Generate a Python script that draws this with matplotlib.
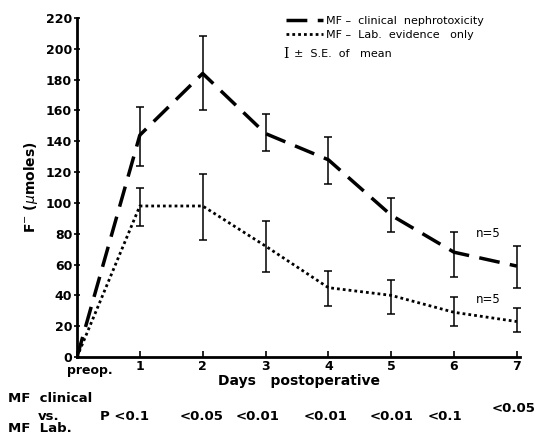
import numpy as np
import matplotlib.pyplot as plt
import matplotlib as mpl

mpl.rcParams['font.family'] = ['DejaVu Sans']

days = [0, 1, 2, 3, 4, 5, 6, 7]
day_labels = ['preop.', '1', '2', '3', '4', '5', '6', '7']

# MF - clinical nephrotoxicity
clin = [0, 144, 184, 145, 128, 92, 68, 59]
clin_hi = [0, 162, 208, 158, 143, 103, 81, 72]
clin_lo = [0, 124, 160, 134, 112, 81, 52, 45]

# MF - Lab. evidence only
lab = [0, 98, 98, 72, 45, 40, 29, 23]
lab_hi = [0, 110, 119, 88, 56, 50, 39, 32]
lab_lo = [0, 85, 76, 55, 33, 28, 20, 16]

p_labels = ['P <0.1', '<0.05', '<0.01', '<0.01', '<0.01', '<0.1', '<0.05']

W, H = 542, 437
fig = plt.figure(figsize=(W / 100, H / 100), dpi=100)
ax = fig.add_axes([77 / W, 80 / H, 443 / W, 339 / H])

d = np.array(days)
c = np.array(clin)
l = np.array(lab)

l1, = ax.plot(d, c, color='black', lw=2.5, dashes=(6, 3),
              label='MF –  clinical  nephrotoxicity')
ax.errorbar(d[1:], c[1:], yerr=[c[1:] - np.array(clin_lo[1:]), np.array(clin_hi[1:]) - c[1:]],
            fmt='none', ecolor='black', elinewidth=1.1, capsize=3, capthick=1.1)
l2, = ax.plot(d, l, color='black', lw=2.0, ls=(0, (1, 1.1)),
              label='MF –  Lab.  evidence   only')
ax.errorbar(d[1:], l[1:], yerr=[l[1:] - np.array(lab_lo[1:]), np.array(lab_hi[1:]) - l[1:]],
            fmt='none', ecolor='black', elinewidth=1.1, capsize=3, capthick=1.1)

ax.set_xlim(0, 7.05)
ax.set_ylim(0, 220)
ax.set_yticks(np.arange(0, 221, 20))
# "preop." is drawn separately, a little to the right of its tick
ax.set_xticks(days, [''] + day_labels[1:])
ax.annotate(day_labels[0], xy=(days[0], 0), xycoords=('data', 'axes fraction'),
            xytext=(9, -5), textcoords='offset points', ha='center', va='top',
            fontsize=9, fontweight='bold')
for s in ['top', 'right']:
    ax.spines[s].set_visible(False)
ax.spines['left'].set_linewidth(2)
ax.spines['bottom'].set_linewidth(2)
ax.tick_params(axis='y', direction='inout', length=5, width=1.2, labelsize=9, pad=1)
ax.tick_params(axis='x', direction='in', length=4, width=1.2, labelsize=9, pad=2)
for t in ax.get_xticklabels() + ax.get_yticklabels():
    t.set_fontweight('bold')

ax.set_ylabel('F$^{-}$ ($\\mu$moles)', fontsize=10, fontweight='bold', labelpad=4)
ax.set_xlabel('Days   postoperative', fontsize=10, fontweight='bold', labelpad=1)

leg = ax.legend(handles=[l1, l2], loc='upper left', bbox_to_anchor=(0.45, 1.035),
                frameon=False, fontsize=8, handlelength=3.3, handletextpad=0.3,
                labelspacing=0.35)

fig.text(283 / W, 1 - 54 / H, 'I', fontsize=10, family='DejaVu Serif', va='center')
fig.text(294 / W, 1 - 54 / H, '±  S.E.  of   mean', fontsize=8, va='center')

ax.text(6.55, 80, 'n=5', fontsize=8.5, ha='center', va='center')
ax.text(6.55, 37, 'n=5', fontsize=8.5, ha='center', va='center')

def ftxt(x, y, s, **kw):
    fig.text(x / W, 1 - y / H, s, fontsize=9.5, fontweight='bold', va='center', **kw)

ftxt(8, 398, 'MF  clinical')
ftxt(38, 416, 'vs.')
ftxt(8, 429, 'MF  Lab.')
p_x = [100, 180, 236, 304, 370, 428, 492]
p_y = [416, 416, 416, 416, 416, 416, 408]
for x, y, s in zip(p_x, p_y, p_labels):
    ftxt(x, y, s)

fig.savefig('out.png', dpi=100)
